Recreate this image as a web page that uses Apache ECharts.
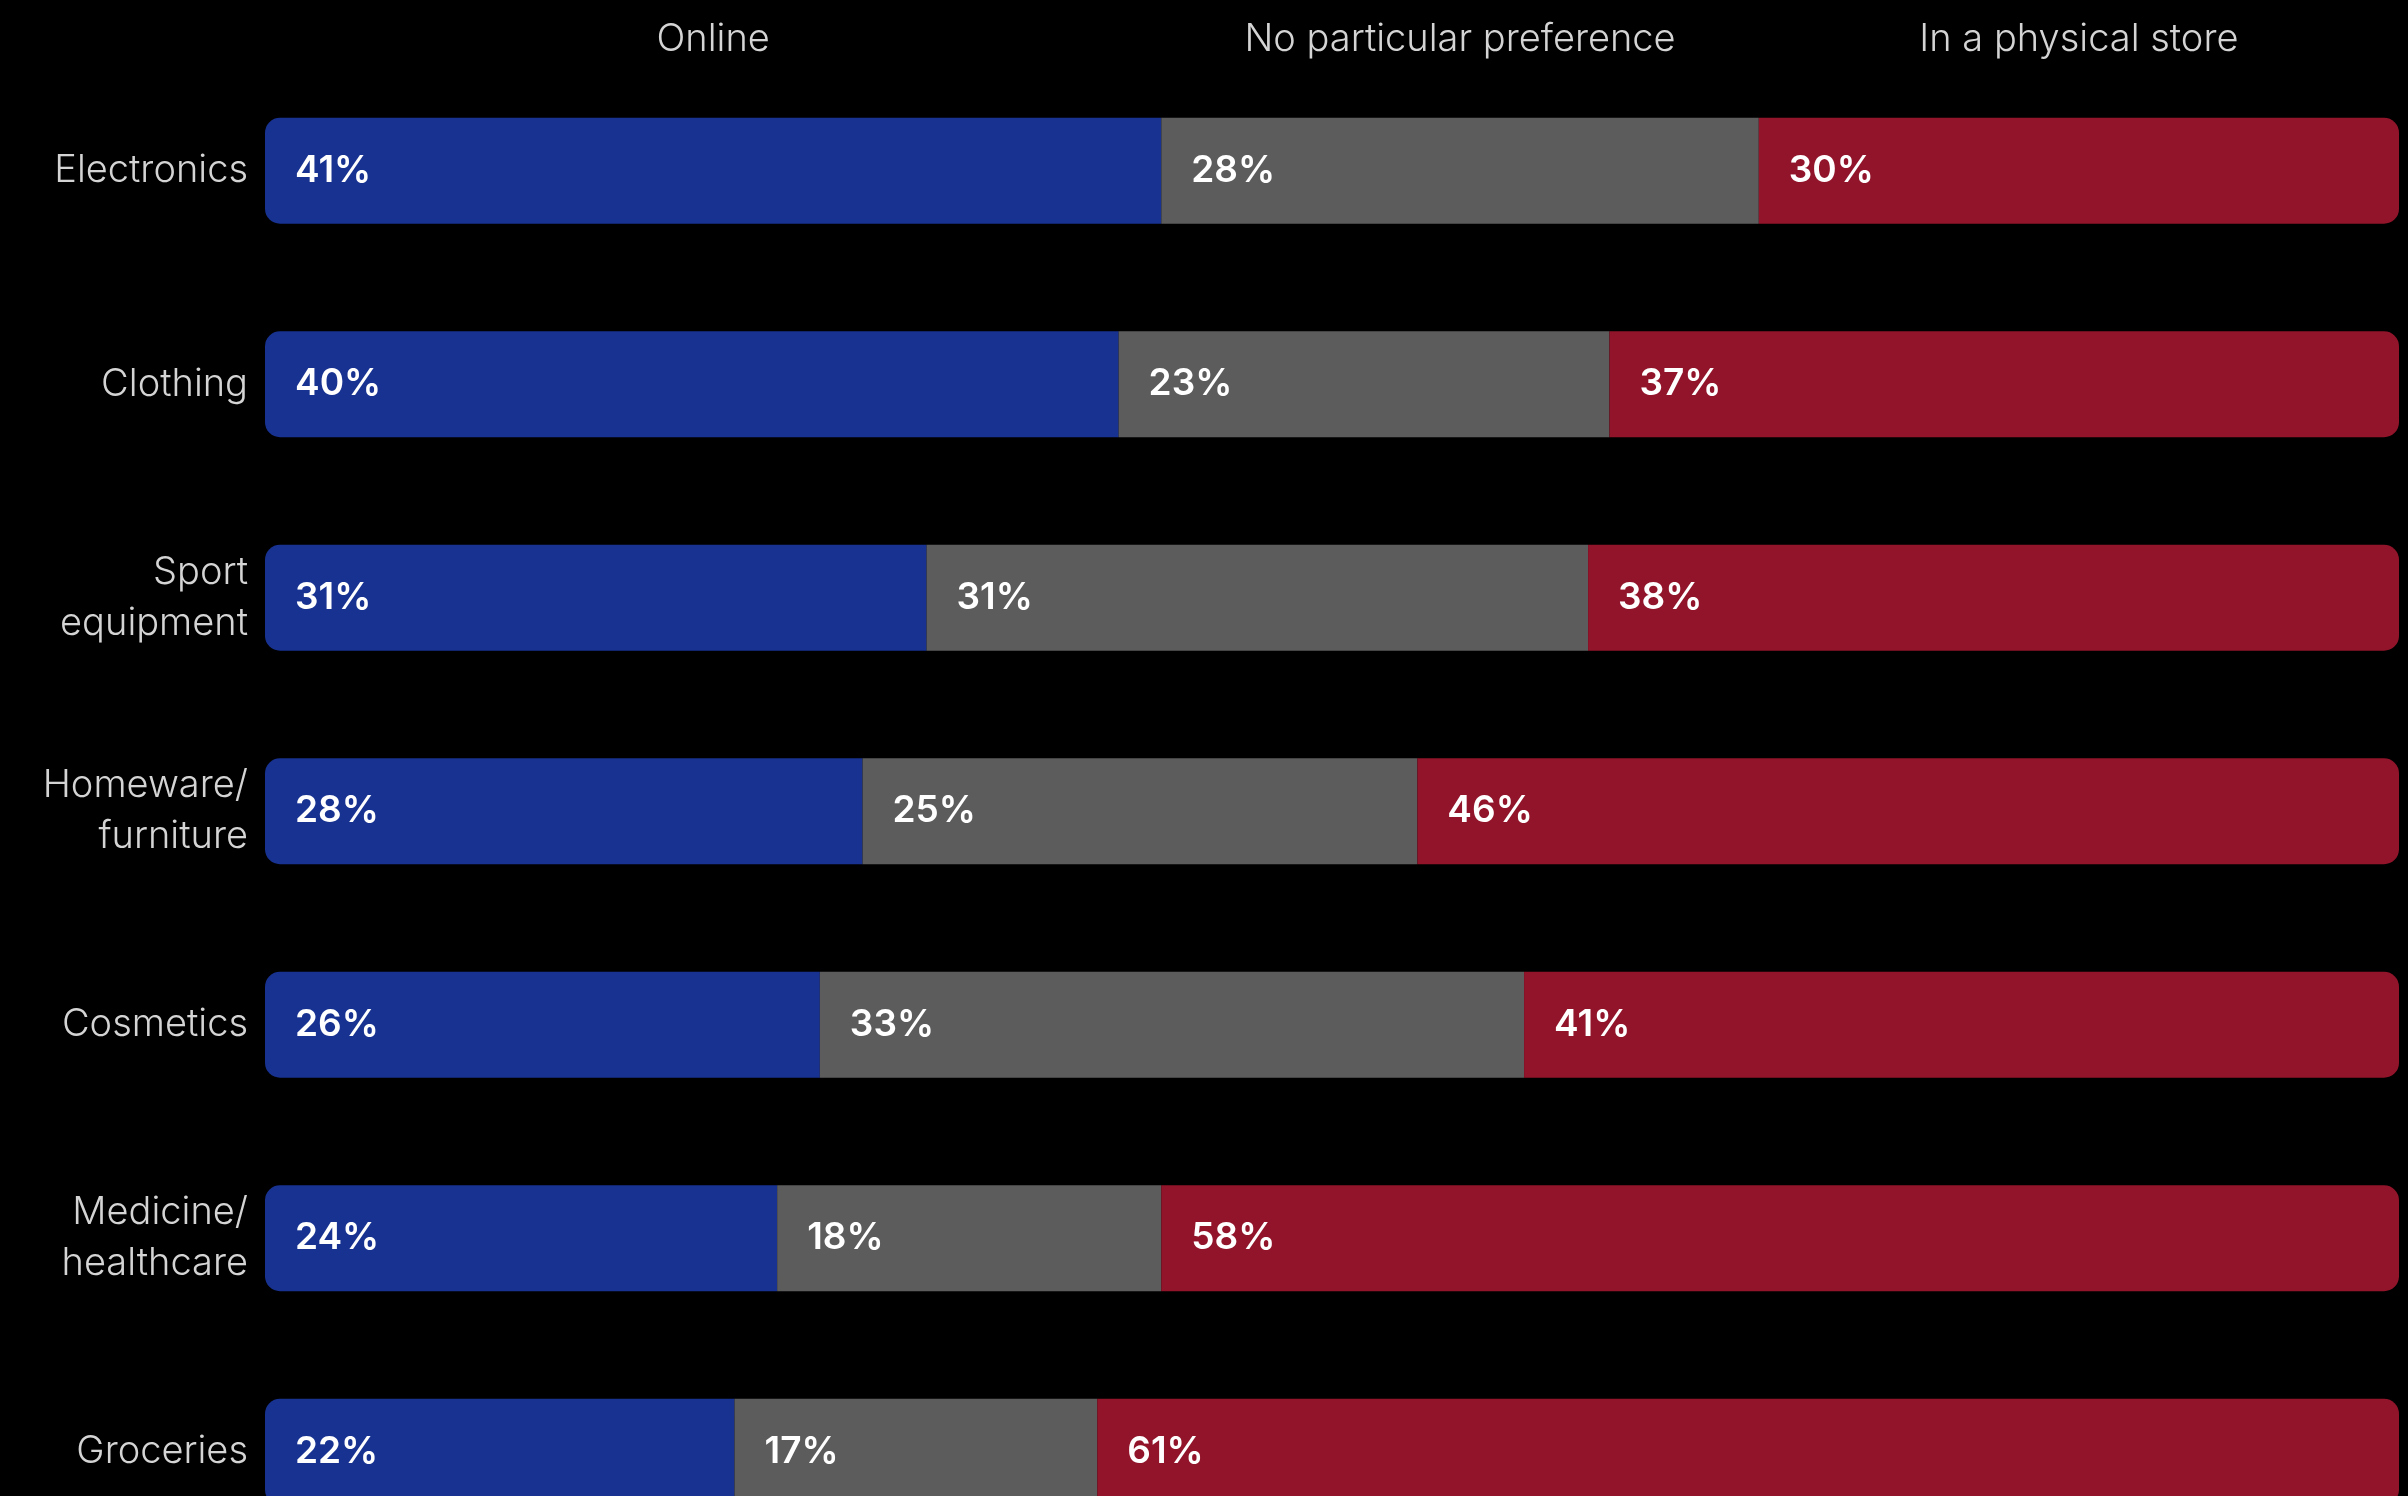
<!DOCTYPE html>
<html>
<head>
<meta charset="utf-8">
<script src="https://cdn.jsdelivr.net/npm/echarts@6/dist/echarts.min.js"></script>
<style>
  html, body { margin: 0; padding: 0; background: #000; }
  #chart { width: 2408px; height: 1496px; }
</style>
</head>
<body>
<div id="chart"></div>
<script>
  // categories, top to bottom
  const categories = [
    "Electronics",
    "Clothing",
    "Sport\nequipment",
    "Homeware/\nfurniture",
    "Cosmetics",
    "Medicine/\nhealthcare",
    "Groceries",
  ];
  const seriesNames = ["Online", "No particular preference", "In a physical store"];

  // bar lengths (share of respondents, %)
  const online = [42, 40, 31, 28, 26, 24, 22];
  const noPreference = [28, 23, 31, 26, 33, 18, 17];
  const physicalStore = [30, 37, 38, 46, 41, 58, 61];

  // printed labels
  const onlineLabels = ["41%", "40%", "31%", "28%", "26%", "24%", "22%"];
  const noPreferenceLabels = ["28%", "23%", "31%", "25%", "33%", "18%", "17%"];
  const physicalStoreLabels = ["30%", "37%", "38%", "46%", "41%", "58%", "61%"];

  const colors = ["#173291", "#5c5c5c", "#91142a"];
  const radius = 15;

  const myChart = echarts.init(document.getElementById("chart"));

  function makeSeries(name, values, labels, color, borderRadius) {
    return {
      name: name,
      type: "bar",
      stack: "total",
      barWidth: 106,
      data: values,
      itemStyle: {
        color: color,
        borderRadius: borderRadius,
      },
      label: {
        show: true,
        position: "insideLeft",
        distance: 30,
        color: "#ffffff",
        fontFamily: "Inter",
        fontWeight: 600,
        fontSize: 37,
        formatter: function (p) {
          return labels[p.dataIndex];
        },
      },
      emphasis: { disabled: true },
    };
  }

  const option = {
    backgroundColor: "#000000",
    animation: false,
    grid: {
      left: 265,
      right: 9,
      top: 64,
      height: 1494.5, // last row runs past the bottom edge, as in the source
      containLabel: false,
      outerBoundsMode: "none",
    },
    xAxis: {
      type: "value",
      min: 0,
      max: 100,
      show: false,
    },
    yAxis: {
      type: "category",
      inverse: true,
      data: categories,
      axisLine: { show: false },
      axisTick: { show: false },
      axisLabel: {
        margin: 17,
        color: "#d4d4d4",
        fontFamily: "Inter",
        fontWeight: 300,
        fontSize: 38,
        lineHeight: 51,
        align: "right",
      },
    },
    series: [
      makeSeries(seriesNames[0], online, onlineLabels, colors[0], [radius, 0, 0, radius]),
      makeSeries(seriesNames[1], noPreference, noPreferenceLabels, colors[1], 0),
      makeSeries(seriesNames[2], physicalStore, physicalStoreLabels, colors[2], [0, radius, radius, 0]),
    ],
  };
  myChart.setOption(option);

  // column headers centred over the first row's segments
  const stacks = [online, noPreference, physicalStore];
  let start = 0;
  const headers = seriesNames.map((name, i) => {
    const mid = start + stacks[i][0] / 2;
    start += stacks[i][0];
    const pt = myChart.convertToPixel({ gridIndex: 0 }, [mid, 0]);
    return {
      type: "text",
      x: pt[0],
      y: 40,
      style: {
        text: name,
        fill: "#d4d4d4",
        font: "300 38px Inter",
        align: "center",
        verticalAlign: "middle",
      },
    };
  });
  myChart.setOption({ graphic: headers });
</script>
</body>
</html>
